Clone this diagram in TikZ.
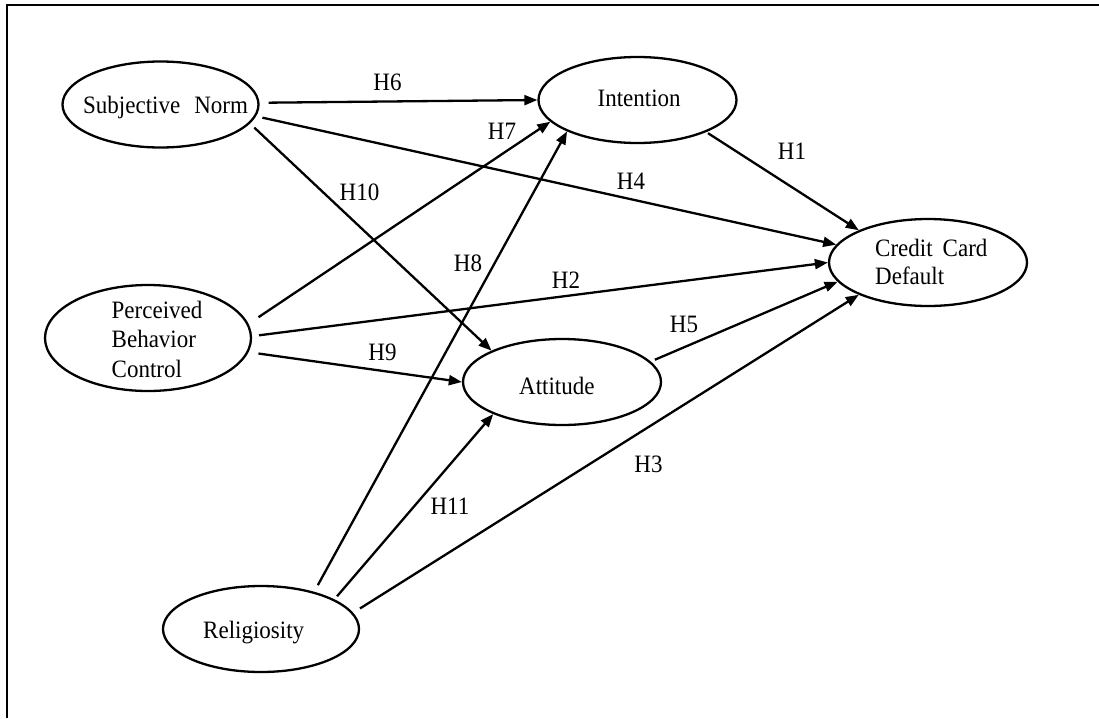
\documentclass[tikz,border=0pt]{standalone}
\usepackage{fontspec}
\setmainfont{Liberation Serif}[FakeStretch=0.92]
\usetikzlibrary{arrows.meta,shapes.geometric}
\begin{document}
\begin{tikzpicture}[x=1pt,y=-1pt,
  construct/.style={draw, ellipse, line width=2.3pt, inner sep=0pt},
  caption/.style={inner sep=0pt, anchor=base west, font=\fontsize{25}{29}\selectfont},
  hyp/.style={inner sep=0pt, font=\fontsize{25}{28}\selectfont},
  link/.style={draw, line width=2.3pt, -{Triangle[length=13pt,width=10pt]}}]

\useasboundingbox (0,0) rectangle (1099,718);

% open frame (top and left rules)
\draw[line width=2.3pt] (7,718) -- (7,5) -- (1099,5);

% constructs
\node[construct, minimum width=196pt, minimum height=86pt]  (sn)  at (160.5,104.5) {};
\node[construct, minimum width=198pt, minimum height=86pt]  (int) at (637.5,100) {};
\node[construct, minimum width=198pt, minimum height=87pt]  (ccd) at (928,262.5) {};
\node[construct, minimum width=206pt, minimum height=106pt] (pbc) at (148,338) {};
\node[construct, minimum width=198pt, minimum height=86pt]  (att) at (562,382) {};
\node[construct, minimum width=196pt, minimum height=86pt]  (rel) at (261,629) {};

% construct names
\node[caption] (sn-t)   at (83,113)    {Subjective\hspace{14pt}Norm};
\node[caption] (int-t)  at (597.4,106.7) {Intention};
\node[caption] (ccd-t1) at (875,256)   {Credit\hspace{10pt}Card};
\node[caption] (ccd-t2) at (875,284)   {Default};
\node[caption] (pbc-t1) at (111.5,318) {Perceived};
\node[caption] (pbc-t2) at (111.5,347) {Behavior};
\node[caption] (pbc-t3) at (111.5,377) {Control};
\node[caption] (att-t)  at (519,394)   {Attitude};
\node[caption] (rel-t)  at (203,638)   {Religiosity};

% hypothesised paths
\draw[link, shorten <=9pt]  (sn.1)   -- (int.180);
\draw[link, shorten <=6.5pt](sn.-7)  -- (ccd.169);
\draw[link, shorten <=6pt]  (sn.-12) -- (att.156);
\draw[link, shorten <=12pt] (pbc.8)  -- (int.194);
\draw[link, shorten <=7.5pt](rel.35) -- (int.204);
\draw[link, shorten <=7pt]  (pbc.1)  -- (ccd.180);
\draw[link, shorten <=10pt] (pbc.-8) -- (att.180);
\draw[link, shorten <=4pt]  (rel.22) -- (att.205);
\draw[link, shorten <=8pt]  (rel.10) -- (ccd.205);
\draw[link, shorten <=4.5pt](att.13) -- (ccd.192);
\draw[link, shorten <=2pt]  (int.-25) -- (ccd.155);

% path labels
\node[hyp] (h6)  at (387.5,82)  {H6};
\node[hyp] (h7)  at (502,131)   {H7};
\node[hyp] (h10) at (359.5,192) {H10};
\node[hyp] (h8)  at (468,263)   {H8};
\node[hyp] (h1)  at (792,151)   {H1};
\node[hyp] (h4)  at (631,181)   {H4};
\node[hyp] (h2)  at (566,280)   {H2};
\node[hyp] (h5)  at (684,324)   {H5};
\node[hyp] (h3)  at (648.5,464) {H3};
\node[hyp] (h9)  at (382.5,352.5) {H9};
\node[hyp] (h11) at (450,506)   {H11};
\end{tikzpicture}
\end{document}
